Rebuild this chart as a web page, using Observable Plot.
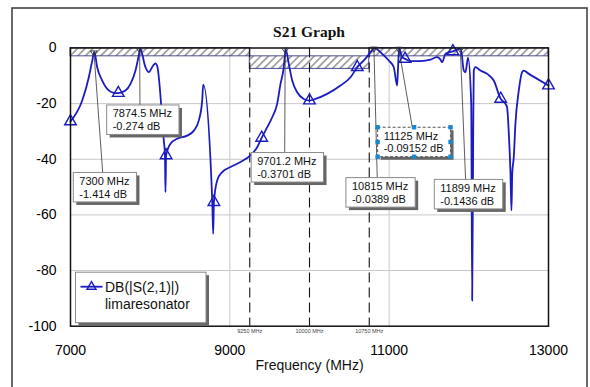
<!DOCTYPE html>
<html><head><meta charset="utf-8">
<script src="https://cdn.jsdelivr.net/npm/d3@7"></script>
<script src="https://cdn.jsdelivr.net/npm/@observablehq/plot@0.6"></script>
<style>html,body{margin:0;padding:0;background:#fff;}</style>
</head><body><div id="chart"></div>
<script>
// ---------- data ----------
const freqMHz = [7000,7147,7230,7270,7300,7335,7398,7460,7543,7600,7690,7753,7816,7857,7874.5,
  7941,7982,8040,8066,8087,8171,8186,8192,8200,8255,8339,8464,8548,8610,8653,8666,
  8779,8791,8800,8841,8904,9008,9133,9259,9343,9400,9447,9532,9594,9636,9677,9690,9701.2,
  9740,9783,9845,9928,10000,10075,10222,10389,10515,10600,10682,10766,10815,
  10912,10995,11058,11100,11110,11125,11163,11200,11267,11393,11518,11602,11640,11665,11707,11800,11899,
  11937,11958,11990,12030,12042,12055,12062,12083,12146,12230,12313,12400,
  12460,12480,12502,12523,12535,12545,12564,12585,12627,12669,12690,12753,12858,13000];
const s21dB = [-26.4,-18.9,-10.5,-5.0,-1.414,-6.9,-11.7,-14.7,-16.1,-16.2,-15.3,-12.9,-8.1,-2.7,-0.274,
  -6.9,-8.7,-6.2,-5.5,-6.3,-33.2,-38.5,-51.8,-38.6,-34.4,-32.6,-31.5,-29.7,-26.1,-18.9,-13.2,
  -54.8,-66.8,-55.4,-47.6,-44.6,-42.8,-41.0,-38.6,-35.7,-32.3,-29.7,-24.9,-20.1,-12.9,-6.9,-3.0,-0.3701,
  -5.7,-11.7,-15.9,-18.3,-18.9,-18.3,-16.5,-13.5,-10.5,-6.9,-4.5,-1.5,-0.0389,
  -2.1,-4.5,-6.9,-13.5,-8.0,-0.09152,-3.3,-3.9,-4.7,-4.7,-4.2,-3.3,-4.0,-5.1,-2.1,-1.2,-0.1436,
  -8.1,-8.7,-3.5,-20,-90.8,-30,-8.1,-6.9,-8.1,-9.3,-11.7,-18.3,
  -20.1,-21.3,-30.8,-45.2,-58.4,-45,-39.3,-27.2,-15.3,-8.7,-8.1,-9.3,-11.1,-13.5];
const symbolFreqMHz = [7000,7600,8200,8800,9400,10000,10600,11200,11800,12400,13000];
const xTicks = [7000, 9000, 11000, 13000];
const yTicks = [-100, -80, -60, -40, -20, 0];
const xGrid = [9000, 11000];
const yGrid = [-80, -60, -40, -20];
const specFreqMHz = [9250, 10000, 10750];
const maskStart = [7000, 9250, 10750];
const maskEnd = [9250, 10750, 13000];
const maskTop = [0, -3, 0];
const maskBottom = [-3, -7.5, -3];
const markerFreq = [7300, 7874.5, 9701.2, 10815, 11125, 11899];
const markerDb = [-1.414, -0.274, -0.3701, -0.0389, -0.09152, -0.1436];
const markerFreqLabel = ["7300 MHz","7874.5 MHz","9701.2 MHz","10815 MHz","11125 MHz","11899 MHz"];
const markerDbLabel = ["-1.414 dB","-0.274 dB","-0.3701 dB","-0.0389 dB","-0.09152 dB","-0.1436 dB"];
const seriesName = "DB(|S(2,1)|)";
const seriesSource = "limaresonator";
const titleText = "S21 Graph";
const xLabel = "Frequency (MHz)";

// ---------- layout (pixels, relative to marker point) ----------
const labelLayout = [
  {dx:-20.6, dy:121,   lx:29.4},
  {dx:-33,   dy:56.7,  lx:33.3},
  {dx:-34,   dy:104,   lx:33.5},
  {dx:-28,   dy:130,   lx:31.3},
  {dx:-21,   dy:79.5,  lx:34.7, selected:true},
  {dx:-26,   dy:131.5, lx:31.3}
];

const blue = "#1b1bc2";
const series = freqMHz.map((f, i) => ({f, db: s21dB[i]}));
const symbols = series.filter(d => symbolFreqMHz.includes(d.f));
const masks = maskStart.map((s, i) => ({x1: s, x2: maskEnd[i], y1: maskTop[i], y2: maskBottom[i]}));
const markers = markerFreq.map((f, i) => ({f, db: markerDb[i]}));

const plot = Plot.plot({
  width: 590, height: 387,
  marginLeft: 70, marginRight: 42, marginTop: 47.5, marginBottom: 61.3,
  style: {fontFamily: "'Liberation Sans', Arial, sans-serif", fontSize: "14px", background: "white", color: "black"},
  x: {domain: [7000, 13000], ticks: xTicks, tickFormat: d => String(d), tickSize: 0, tickPadding: 19, label: null},
  y: {domain: [-100, 0], ticks: yTicks, tickFormat: d => String(d), tickSize: 0, tickPadding: 14, label: null},
  marks: [
    Plot.gridX(xGrid, {stroke: "#c8c8c8", strokeOpacity: 1}),
    Plot.gridY(yGrid, {stroke: "#c8c8c8", strokeOpacity: 1}),
    Plot.rect(masks, {x1: "x1", x2: "x2", y1: "y1", y2: "y2", fill: "url(#hatch)", stroke: "#3a3a8a", strokeWidth: 0.9}),
    Plot.ruleX(specFreqMHz, {stroke: "#111", strokeWidth: 1.1, strokeDasharray: "10,5"}),
    Plot.text(specFreqMHz, {x: d => d, text: d => `${d} MHz`, frameAnchor: "bottom", dy: 6.5, fontSize: 5.5, fill: "#444"}),
    Plot.line(series, {x: "f", y: "db", stroke: blue, strokeWidth: 1.8, curve: "monotone-x"}),
    Plot.dot(symbols, {x: "f", y: "db", symbol: "triangle", r: 4.3, stroke: blue, strokeWidth: 1.4, fill: "none"}),
    Plot.frame({stroke: "#111", strokeWidth: 1.5}),
    Plot.text([xLabel], {frameAnchor: "bottom", dy: 43.5, fontSize: 14, fill: "#111"})
  ]
});
document.getElementById("chart").append(plot);

const svg = d3.select(plot);
const sx = plot.scale("x"), sy = plot.scale("y");
const [fx0, fx1] = sx.range;
const [fyB, fyT] = sy.range;

// hatch pattern
const defs = svg.insert("defs", ":first-child");
const pat = defs.append("pattern").attr("id", "hatch").attr("patternUnits", "userSpaceOnUse")
  .attr("width", 5.4).attr("height", 5.4).attr("patternTransform", "rotate(45)");
pat.append("line").attr("x1", 2.7).attr("y1", -1).attr("x2", 2.7).attr("y2", 7).attr("stroke", "#3a3a3a").attr("stroke-width", 0.85);

// title
svg.append("text").attr("x", (fx0 + fx1) / 2).attr("y", fyT - 10.5).attr("text-anchor", "middle")
  .attr("font-family", "'Liberation Serif', 'Times New Roman', serif").attr("font-weight", "bold")
  .attr("font-size", 15.5).attr("fill", "#111").text(titleText);

// outer border
svg.append("rect").attr("x", 12).attr("y", 8).attr("width", 575).attr("height", 420)
  .attr("fill", "none").attr("stroke", "#444").attr("stroke-width", 1.6);

// marker annotations
const ann = svg.append("g").attr("font-family", "'Liberation Sans', Arial, sans-serif")
  .attr("font-size", 11).attr("text-anchor", "start");
markers.forEach((m, i) => {
  const L = labelLayout[i];
  const px = sx.apply(m.f), py = sy.apply(m.db);
  const bx = px + L.dx, by = py + L.dy;
  ann.append("line").attr("x1", px).attr("y1", py).attr("x2", bx + L.lx).attr("y2", by)
    .attr("stroke", "#333").attr("stroke-width", 0.8);
  ann.append("path").attr("d", `M${px-3.5},${py-0.5}L${px+3.5},${py-0.5}L${px},${py+4.5}Z`)
    .attr("fill", "none").attr("stroke", "#333").attr("stroke-width", 0.9);
  const g = ann.append("g");
  const t1 = g.append("text").attr("x", bx + 6).attr("y", by + 12.3).attr("fill", "#111").text(markerFreqLabel[i]);
  const t2 = g.append("text").attr("x", bx + 6).attr("y", by + 25.2).attr("fill", "#111").text(markerDbLabel[i]);
  const w = Math.max(t1.node().getComputedTextLength(), t2.node().getComputedTextLength()) + 13;
  const h = 29.5;
  g.insert("rect", ":first-child").attr("x", bx).attr("y", by).attr("width", w).attr("height", h)
    .attr("fill", "white").attr("stroke", L.selected ? "#555" : "#8a8a8a").attr("stroke-width", 1)
    .attr("stroke-dasharray", L.selected ? "3,2" : null);
  g.insert("rect", ":first-child").attr("x", bx + 3).attr("y", by + 3).attr("width", w).attr("height", h)
    .attr("fill", "#666");
  if (L.selected) {
    const hx = [bx, bx + w / 2, bx + w], hy = [by, by + h / 2, by + h];
    hx.forEach((x, a) => hy.forEach((y, b) => {
      if (a === 1 && b === 1) return;
      g.append("rect").attr("x", x - 2.2).attr("y", y - 2.2).attr("width", 4.4).attr("height", 4.4).attr("fill", "#1a86d0");
    }));
  }
});

// legend
const lg = svg.append("g").attr("font-family", "'Liberation Sans', Arial, sans-serif")
  .attr("font-size", 14).attr("text-anchor", "start");
const lx = fx0 + 5.5, ly = fyB - 53.5, lw = 130.5, lh = 50.5;
lg.append("rect").attr("x", lx + 3).attr("y", ly + 3).attr("width", lw).attr("height", lh).attr("fill", "#666");
lg.append("rect").attr("x", lx).attr("y", ly).attr("width", lw).attr("height", lh).attr("fill", "white").attr("stroke", "#8a8a8a");
lg.append("line").attr("x1", lx + 5).attr("x2", lx + 27).attr("y1", ly + 14.5).attr("y2", ly + 14.5).attr("stroke", blue).attr("stroke-width", 1.8);
lg.append("path").attr("d", `M${lx+16},${ly+9.5}L${lx+20.5},${ly+17}L${lx+11.5},${ly+17}Z`).attr("fill", "none").attr("stroke", blue).attr("stroke-width", 1.4);
lg.append("text").attr("x", lx + 29.5).attr("y", ly + 19.5).attr("fill", "#111").text(seriesName);
lg.append("text").attr("x", lx + 29.5).attr("y", ly + 36.5).attr("fill", "#111").text(seriesSource);
</script></body></html>
